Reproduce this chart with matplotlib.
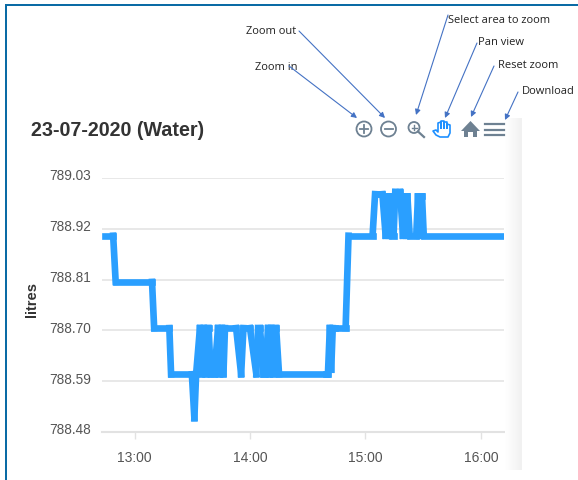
import matplotlib
matplotlib.use("Agg")
import matplotlib.pyplot as plt
from matplotlib.collections import LineCollection
from matplotlib.colors import LinearSegmentedColormap
from matplotlib.patches import Circle, Polygon, Rectangle
from matplotlib.transforms import ScaledTranslation
import numpy as np

# minutes after 13:00
minutes = [-15.4, -11.1, -9.8, 9.1, 10.2, 18.1, 19, 29.8, 31.1, 32,
           34, 35, 36, 37, 38, 38.5, 39.6, 41.5,
           43.4, 44.4, 45.4, 46.2, 47, 52.8, 55.4, 56.6, 60, 63.3, 64.2, 65.2, 67, 67.8,
           69.4, 70.3, 71.1, 72, 72.8, 73.6, 75.1, 99.5, 100.5, 101.5, 102.2, 103, 104, 109.7, 111.2,
           123.7, 125, 126.8, 128.8, 130.5, 131.3, 132.1, 132.9, 133.7, 134.6, 135.5, 138, 139.5,
           140.4, 141.1, 141.8, 143, 146.4, 147.3, 148.1, 148.9, 149.4, 150.3, 190.5]
litres = [788.905, 788.905, 788.805, 788.805, 788.705, 788.705, 788.605, 788.605, 788.51, 788.605,
          788.705, 788.605, 788.705, 788.605, 788.705, 788.705, 788.605, 788.605,
          788.705, 788.605, 788.705, 788.605, 788.705, 788.705, 788.605, 788.705, 788.705, 788.605, 788.705, 788.705, 788.605, 788.605,
          788.705, 788.605, 788.705, 788.605, 788.705, 788.705, 788.605, 788.605, 788.605, 788.705, 788.615, 788.705, 788.705, 788.705, 788.905,
          788.905, 788.995, 788.995, 788.995, 788.905, 788.99, 788.905, 788.99, 788.905, 788.905, 789.0, 789.0, 788.905,
          788.99, 788.905, 788.99, 788.905, 788.905, 788.99, 788.905, 788.99, 788.99, 788.905, 788.905]

y_ticks = [788.48, 788.59, 788.70, 788.81, 788.92, 789.03]
x_ticks = [0, 60, 120, 180]
x_labels = ["13:00", "14:00", "15:00", "16:00"]

W, H = 578, 480
plt.rcParams["font.family"] = ["Liberation Sans", "DejaVu Sans"]
fig = plt.figure(figsize=(W / 100, H / 100), dpi=100)

ax = fig.add_axes([102 / W, 1 - 432 / H, (504 - 102) / W, (432 - 178) / H])
# each step stroked on its own, the joins of one long path leave holes in the dense parts
pts = np.column_stack([minutes, litres])
ax.add_collection(LineCollection(np.stack([pts[:-1], pts[1:]], axis=1), colors="#2a9fff", linewidths=4.8,
                                 capstyle="projecting", zorder=3))
ax.set_xlim(-16.9, 192)
ax.set_ylim(788.48, 789.03)
ax.set_yticks(y_ticks)
ax.set_yticklabels([f"{v:.2f}" for v in y_ticks], fontsize=9.8, color="#555555")
ax.set_xticks(x_ticks)
ax.set_xticklabels(x_labels, fontsize=10, color="#555555")
ax.grid(axis="y", color="#e6e6e6", lw=1.3)
ax.set_axisbelow(True)
for s in ["top", "right", "left"]:
    ax.spines[s].set_visible(False)
ax.spines["bottom"].set_color("#e2e2e2")
ax.spines["bottom"].set_linewidth(1.5)
ax.tick_params(axis="y", length=0, pad=8)
ax.tick_params(axis="x", length=5, width=1, color="#e2e2e2", pad=9)
up = ScaledTranslation(0, 3 / 100, fig.dpi_scale_trans)
for lab in ax.get_yticklabels():
    lab.set_transform(lab.get_transform() + up)
ax.set_ylabel("litres", fontsize=10.5, fontweight="bold", color="#333333")
ax.yaxis.set_label_coords((39 - 102) / (504 - 102), 0.52)

# overlay in pixel coordinates for toolbar and annotations
ov = fig.add_axes([0, 0, 1, 1], facecolor="none")
ov.axis("off")

# screenshot frame
ov.add_patch(Rectangle((5, 4), W, 2, color="#0a6ba5", lw=0))
ov.add_patch(Rectangle((5, 4), 2, H, color="#0a6ba5", lw=0))

# grey strip on the right
strip = np.linspace(0, 1, 30).reshape(1, -1)
ov.imshow(strip, extent=(505, 522, 470, 118), cmap=LinearSegmentedColormap.from_list("g", ["#ffffff", "#f1f1f1"]),
          aspect="auto", vmin=0, vmax=1, zorder=1)
ov.set_xlim(0, W)
ov.set_ylim(H, 0)

ov.text(31, 130, "23-07-2020 (Water)", fontsize=14.2, fontweight="bold", color="#333333", va="center", ha="left")

# toolbar icons
grey = "#6e8192"
ov.add_patch(Circle((364, 129), 7.5, fill=False, ec=grey, lw=1.3))
ov.plot([360, 368], [129, 129], color=grey, lw=1.3)
ov.plot([364, 364], [125, 133], color=grey, lw=1.3)
ov.add_patch(Circle((388.5, 129), 7.5, fill=False, ec=grey, lw=1.3))
ov.plot([384.5, 392.5], [129, 129], color=grey, lw=1.3)
ov.add_patch(Circle((414, 127.5), 5.5, fill=False, ec=grey, lw=1.3))
ov.plot([411.5, 416.5], [127.5, 127.5], color=grey, lw=1)
ov.plot([414, 414], [125, 130], color=grey, lw=1)
ov.plot([418, 424], [131.5, 137], color=grey, lw=1.6)
# hand
hand = "#1e90ff"
ov.add_patch(Polygon([(433, 131), (436, 130), (438, 132), (438, 123), (441, 122), (441, 128), (441, 121), (444, 121),
                      (444, 128), (444, 122), (447, 122), (447, 128), (447, 124), (450, 125), (450, 133),
                      (448, 137), (440, 137), (436, 135)], fill=False, ec=hand, lw=1.2, joinstyle="round"))
# home
ov.add_patch(Polygon([(461, 131), (470.5, 121), (480, 131), (477, 131), (477, 137), (473, 137), (473, 132),
                      (468, 132), (468, 137), (464, 137), (464, 131)], color=grey, lw=0))
# menu
for yy in [124, 129.5, 135]:
    ov.plot([485, 504], [yy, yy], color=grey, lw=1.6)

# callouts
note_font = ["Open Sans", "DejaVu Sans"]
notes = [("Zoom out", 246, 31.5), ("Zoom in", 255, 67.5), ("Select area to zoom", 448, 20.5),
         ("Pan view", 478, 42.5), ("Reset zoom", 498, 65.5), ("Download", 522, 91.5)]
for label, x, y in notes:
    ov.text(x, y, label, fontsize=8, color="#222222", va="center", ha="left", family=note_font)
arrows = [((299, 31), (385, 118)), ((289, 66), (357, 118)), ((448, 15), (416, 115)),
          ((477, 43), (445, 118)), ((494, 66), (471, 117)), ((518, 92), (505, 120))]
for start, end in arrows:
    ov.annotate("", xy=end, xytext=start, arrowprops=dict(arrowstyle="-|>", color="#4472c4", lw=0.8,
                                                          shrinkA=0, shrinkB=0, mutation_scale=8))

fig.savefig("out.png", dpi=100)
